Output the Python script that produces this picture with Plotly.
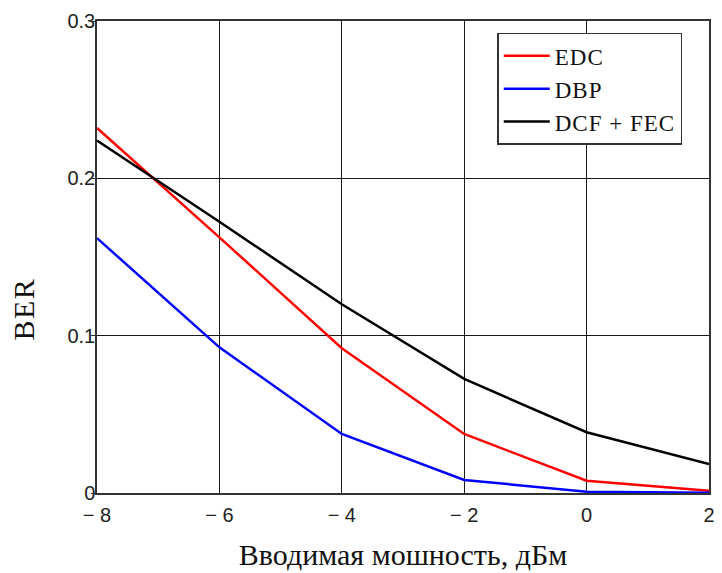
import plotly.graph_objects as go

# Launch power, dBm
power_dbm = [-8, -6, -4, -2, 0, 2]

# Bit error rate for each compensation scheme
ber_edc = [0.232, 0.1625, 0.092, 0.0375, 0.0078, 0.0015]
ber_dbp = [0.162, 0.0926, 0.0375, 0.0083, 0.0008, 0.0002]
ber_dcf_fec = [0.224, 0.1724, 0.120, 0.0725, 0.0386, 0.0184]

x_tick_vals = [-8, -6, -4, -2, 0, 2]
x_tick_text = ["\u2212 8", "\u2212 6", "\u2212 4", "\u2212 2", "0", "2"]
y_tick_vals = [0, 0.1, 0.2, 0.3]
y_tick_text = ["0", "0.1", "0.2", "0.3"]

serif = "Liberation Serif"
sans = "Liberation Sans"

fig = go.Figure()
series = [
    ("EDC", ber_edc, "#ff0000"),
    ("DBP", ber_dbp, "#0000ff"),
    ("DCF + FEC", ber_dcf_fec, "#000000"),
]
for name, ys, color in series:
    fig.add_trace(go.Scatter(
        x=power_dbm, y=ys, mode="lines",
        name='<span style="letter-spacing:1px">' + name + "</span>",
        line=dict(color=color, width=2.5),
    ))

axis_common = dict(
    showgrid=True, gridcolor="#1a1a1a", gridwidth=1.3,
    showline=True, linecolor="#333333", linewidth=1.5, mirror=True,
    zeroline=False, tickcolor="#333333",
    tickfont=dict(family=sans, size=20, color="#222222"),
)

fig.update_layout(
    width=722, height=573,
    margin=dict(l=97, r=7, t=21, b=79),
    paper_bgcolor="white", plot_bgcolor="white",
    showlegend=True,
    legend=dict(
        x=0.654, y=0.975, xanchor="left", yanchor="top",
        bgcolor="white", bordercolor="#333333", borderwidth=1.5,
        font=dict(family=serif, size=23, color="#111111"),
        itemwidth=46, tracegroupgap=0,
    ),
    xaxis=dict(
        range=[-8, 2], tickvals=x_tick_vals, ticktext=x_tick_text,
        ticks="", ticklabelstandoff=3,
        title=dict(text="Вводимая мошность, дБм",
                   font=dict(family=serif, size=30, color="#111111"),
                   standoff=19),
        **axis_common,
    ),
    yaxis=dict(
        range=[0, 0.3], tickvals=y_tick_vals, ticktext=y_tick_text,
        ticks="outside", ticklen=4, ticklabelstandoff=-8,
        **axis_common,
    ),
    annotations=[dict(
        text='<span style="letter-spacing:1.5px">BER</span>',
        textangle=-90, xref="paper", yref="paper",
        x=-0.12, y=0.39, xanchor="center", yanchor="middle",
        showarrow=False,
        font=dict(family=serif, size=30, color="#111111"),
    )],
)

fig.write_html("out.html")
